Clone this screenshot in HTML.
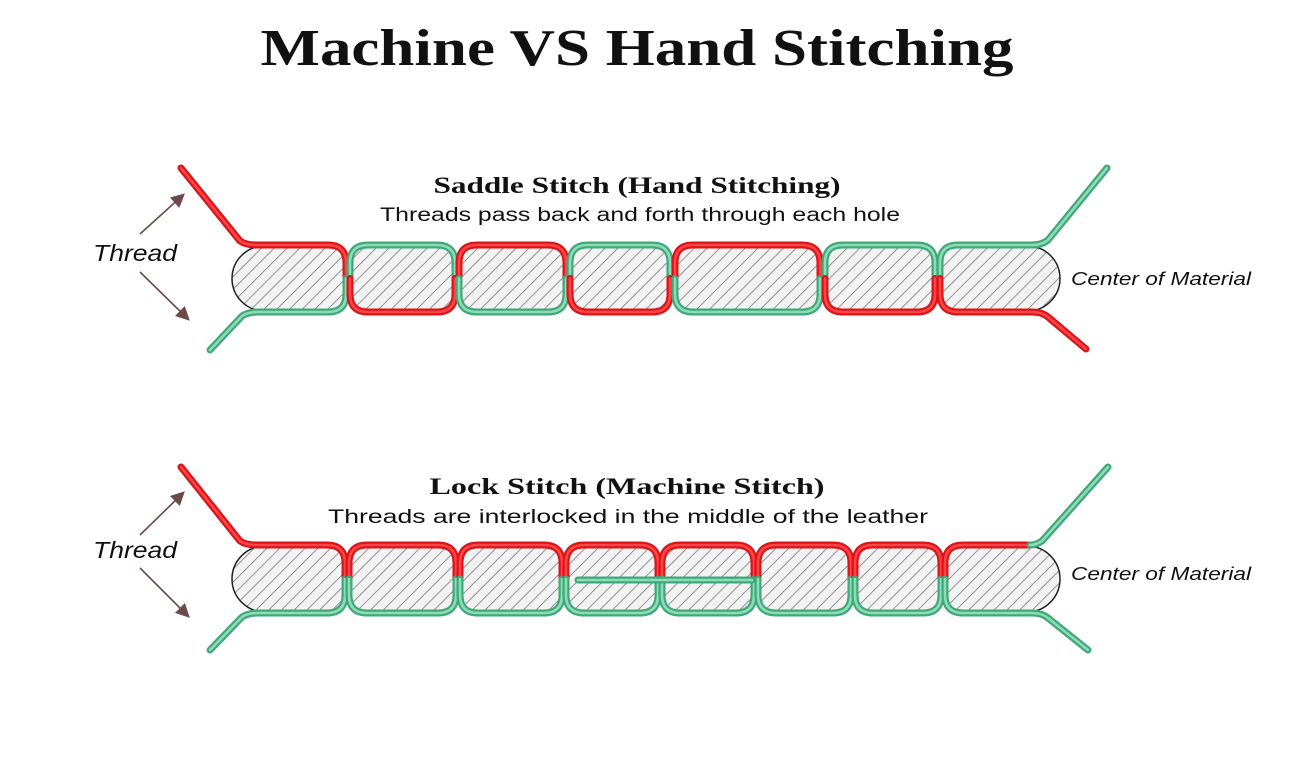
<!DOCTYPE html>
<html><head><meta charset="utf-8"><style>
html,body{margin:0;padding:0;background:#fff;}
svg{display:block;}
</style></head><body>
<svg id="s" width="1300" height="758" viewBox="0 0 1300 758" xmlns="http://www.w3.org/2000/svg">
<defs>
<pattern id="h" patternUnits="userSpaceOnUse" width="9" height="9" patternTransform="rotate(45)">
<rect width="9" height="9" fill="#f3f3f3"/>
<line x1="0" y1="0" x2="0" y2="9" stroke="#6a6a6a" stroke-width="1.4"/>
</pattern>
<marker id="ar" markerWidth="14" markerHeight="14" refX="10" refY="7" orient="auto" markerUnits="userSpaceOnUse">
<path d="M0,0 L14,7 L0,14 Z" fill="#6b4a48"/>
</marker>
</defs>
<text x="637" y="65" text-anchor="middle" font-family="Liberation Serif, serif" font-weight="bold" font-size="52" textLength="753" lengthAdjust="spacingAndGlyphs" fill="#111">Machine VS Hand Stitching</text>

<text x="637" y="193" text-anchor="middle" font-family="Liberation Serif, serif" font-weight="bold" font-size="23" textLength="407" lengthAdjust="spacingAndGlyphs" fill="#111">Saddle Stitch (Hand Stitching)</text>
<text x="640" y="221" text-anchor="middle" font-family="Liberation Sans, sans-serif" font-size="19" textLength="520" lengthAdjust="spacingAndGlyphs" fill="#111">Threads pass back and forth through each  hole</text>

<text x="627" y="494" text-anchor="middle" font-family="Liberation Serif, serif" font-weight="bold" font-size="23" textLength="395" lengthAdjust="spacingAndGlyphs" fill="#111">Lock Stitch (Machine Stitch)</text>
<text x="628" y="523" text-anchor="middle" font-family="Liberation Sans, sans-serif" font-size="19" textLength="600" lengthAdjust="spacingAndGlyphs" fill="#111">Threads are interlocked in the middle of  the leather</text>

<g font-family="Liberation Sans, sans-serif" font-style="italic" fill="#111">
<text x="93" y="261" font-size="23" textLength="84" lengthAdjust="spacingAndGlyphs">Thread</text>
<text x="93" y="558" font-size="23" textLength="84" lengthAdjust="spacingAndGlyphs">Thread</text>
<text x="1071" y="285" font-size="18" textLength="180" lengthAdjust="spacingAndGlyphs">Center of Material</text>
<text x="1071" y="580" font-size="18" textLength="180" lengthAdjust="spacingAndGlyphs">Center of Material</text>
</g>
<g stroke="#6b4a48" stroke-width="1.6" fill="none">
<line x1="140" y1="234" x2="182" y2="196" marker-end="url(#ar)"/>
<line x1="140" y1="272" x2="187" y2="318" marker-end="url(#ar)"/>
<line x1="140" y1="535" x2="182" y2="494" marker-end="url(#ar)"/>
<line x1="140" y1="568" x2="187" y2="615" marker-end="url(#ar)"/>
</g>
<g id="mat"></g>
<g id="thr" fill="none" stroke-linecap="round" stroke-linejoin="round"></g>
</svg>
<script>
var NS="http://www.w3.org/2000/svg";
var mat=document.getElementById('mat'),thr=document.getElementById('thr');
var R={o:'#d9141a',i:'#ff4444'},G={o:'#3ea87a',i:'#8fdbb6'};
function el(p,t,a){var e=document.createElementNS(NS,t);for(var k in a)e.setAttribute(k,a[k]);p.appendChild(e);return e;}
function th(d,c){el(thr,'path',{d:d,stroke:c.o,'stroke-width':7});el(thr,'path',{d:d,stroke:c.i,'stroke-width':2.6});}
function row(segs,yt,yb,topCol,botCol,exits){
 var ym=(yt+yb)/2,r=18,n=segs.length;
 segs.forEach(function(s,i){
  var x0=s[0],x1=s[1];
  var rl=i==0?(yb-yt)/2:14, rr=i==n-1?(yb-yt)/2:14;
  var d='M'+(x0+rl)+' '+yt+' H'+(x1-rr)+' A'+rr+' '+rr+' 0 0 1 '+x1+' '+(yt+rr)+' V'+(yb-rr)+' A'+rr+' '+rr+' 0 0 1 '+(x1-rr)+' '+yb+' H'+(x0+rl)+' A'+rl+' '+rl+' 0 0 1 '+x0+' '+(yb-rl)+' V'+(yt+rl)+' A'+rl+' '+rl+' 0 0 1 '+(x0+rl)+' '+yt+' Z';
  el(mat,'path',{d:d,fill:'url(#h)',stroke:'#222','stroke-width':1.5});
 });
 segs.forEach(function(s,i){
  var x0=s[0],x1=s[1],tc=topCol(i),bc=botCol(i);
  var T=yt-1,B=yb+1;
  if(i==0){
   th('M'+exits.tl[0]+' '+exits.tl[1]+' L'+(x0+8)+' '+(T-4)+' Q'+(x0+14)+' '+T+' '+(x0+24)+' '+T+' H'+(x1-r)+' Q'+x1+' '+T+' '+x1+' '+(T+r)+' V'+ym,tc);
   th('M'+exits.bl[0]+' '+exits.bl[1]+' L'+(x0+10)+' '+(B+4)+' Q'+(x0+16)+' '+B+' '+(x0+26)+' '+B+' H'+(x1-r)+' Q'+x1+' '+B+' '+x1+' '+(B-r)+' V'+ym,bc);
  } else if(i==n-1){
   if(exits.split){
    th('M'+x0+' '+ym+' V'+(T+r)+' Q'+x0+' '+T+' '+(x0+r)+' '+T+' H'+exits.split,tc);
    th('M'+exits.split+' '+T+' Q'+(exits.split+6)+' '+T+' '+(exits.split+12)+' '+(T-4)+' L'+exits.tr[0]+' '+exits.tr[1],G);
   } else
   th('M'+x0+' '+ym+' V'+(T+r)+' Q'+x0+' '+T+' '+(x0+r)+' '+T+' H'+(x1-28)+' Q'+(x1-18)+' '+T+' '+(x1-12)+' '+(T-5)+' L'+exits.tr[0]+' '+exits.tr[1],tc);
   th('M'+x0+' '+ym+' V'+(B-r)+' Q'+x0+' '+B+' '+(x0+r)+' '+B+' H'+(x1-28)+' Q'+(x1-18)+' '+B+' '+(x1-12)+' '+(B+5)+' L'+exits.br[0]+' '+exits.br[1],bc);
  } else {
   th('M'+x0+' '+ym+' V'+(T+r)+' Q'+x0+' '+T+' '+(x0+r)+' '+T+' H'+(x1-r)+' Q'+x1+' '+T+' '+x1+' '+(T+r)+' V'+ym,tc);
   th('M'+x0+' '+ym+' V'+(B-r)+' Q'+x0+' '+B+' '+(x0+r)+' '+B+' H'+(x1-r)+' Q'+x1+' '+B+' '+x1+' '+(B-r)+' V'+ym,bc);
  }
 });
}
row([[232,346],[350,455],[459,566],[570,670],[675,820],[825,935],[940,1060]],246,311,
 function(i){return (i%2||i==6)?G:R;},function(i){return (i%2||i==6)?R:G;},
 {tl:[181,168],bl:[210,350],tr:[1107,168],br:[1086,349]});
row([[232,345],[349,456],[460,562],[566,658],[662,754],[758,851],[855,941],[945,1060]],546,612,
 function(){return R;},function(){return G;},
 {tl:[181,467],bl:[210,650],tr:[1108,467],br:[1088,650],split:1030});
th('M578 580 H752',G);
</script>
</body></html>
